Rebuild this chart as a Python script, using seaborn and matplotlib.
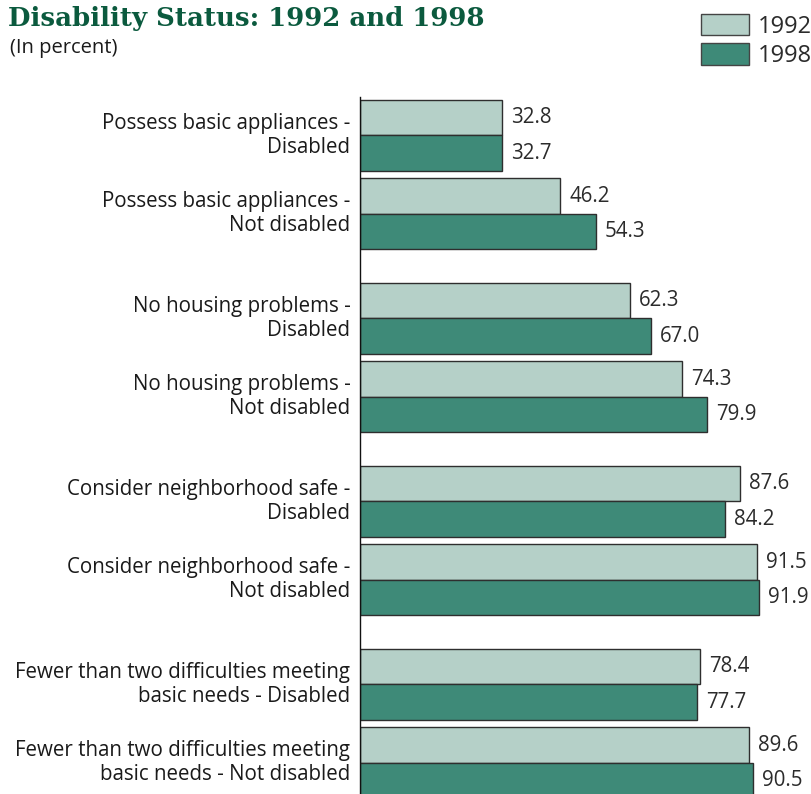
import matplotlib
matplotlib.use("Agg")
import matplotlib.pyplot as plt
from matplotlib.patches import Patch
from matplotlib.transforms import ScaledTranslation
import seaborn as sns
import pandas as pd

categories = [
    "Possess basic appliances -\nDisabled",
    "Possess basic appliances -\nNot disabled",
    "No housing problems -\nDisabled",
    "No housing problems -\nNot disabled",
    "Consider neighborhood safe -\nDisabled",
    "Consider neighborhood safe -\nNot disabled",
    "Fewer than two difficulties meeting\nbasic needs - Disabled",
    "Fewer than two difficulties meeting\nbasic needs - Not disabled",
]
values_1992 = [32.8, 46.2, 62.3, 74.3, 87.6, 91.5, 78.4, 89.6]
values_1998 = [32.7, 54.3, 67.0, 79.9, 84.2, 91.9, 77.7, 90.5]
years = ["1992", "1998"]

light = "#b5d0c8"
dark = "#3e8a78"
edge = "#2e2e2e"
title_color = "#0b5a3e"
text_color = "#2b2b2b"

sns.set_theme(style="white")
plt.rcParams["font.family"] = ["Open Sans", "DejaVu Sans"]

# layout: pairs of rows within a topic, bigger gap between topics
group_step = 2.331
positions = [(i // 2) * group_step + (i % 2) for i in range(len(categories))]

df = pd.DataFrame({
    "pos": positions * 2,
    "value": values_1992 + values_1998,
    "year": [years[0]] * len(categories) + [years[1]] * len(categories),
})

fig = plt.figure(figsize=(8.12, 7.94), dpi=100)
ax = fig.add_axes([360 / 812, 0.0, 1 - 360 / 812, 1 - 97 / 794])

sns.barplot(data=df, y="pos", x="value", hue="year", hue_order=years,
            palette={years[0]: light, years[1]: dark}, orient="y",
            native_scale=True, width=0.904, gap=0, dodge=True,
            edgecolor=edge, linewidth=1.0, legend=False, ax=ax,
            saturation=1, err_kws={"linewidth": 0})

for cont in ax.containers:
    ax.bar_label(cont, fmt="%.1f", padding=6.5, fontsize=14.8,
                 color=text_color, clip_on=False)

ax.set_xlim(0, (812 - 360) / 4.338)
ax.set_ylim(8.389, -0.490)
ax.set_yticks(positions)
ax.set_yticklabels(categories, fontsize=14.8, color="#1a1a1a",
                   ha="right", linespacing=1.18)
ax.tick_params(axis="y", length=0, pad=7)
shift = ScaledTranslation(0, 4 / 100, fig.dpi_scale_trans)
for lab in ax.get_yticklabels():
    lab.set_transform(lab.get_transform() + shift)
ax.set_xticks([])
ax.set_xlabel("")
ax.set_ylabel("")
for s in ["top", "right", "bottom"]:
    ax.spines[s].set_visible(False)
ax.spines["left"].set_color("#111111")
ax.spines["left"].set_linewidth(1.0)
for p in ax.patches:
    p.set_clip_on(True)

fig.text(8 / 812, 1 - 26 / 794, "Disability Status: 1992 and 1998",
         fontsize=18.7, fontweight="bold", family="DejaVu Serif",
         color=title_color, ha="left", va="baseline")
fig.text(10 / 812, 1 - 53 / 794, "(In percent)", fontsize=14.5,
         color="#1a1a1a", ha="left", va="baseline")

handles = [Patch(facecolor=light, edgecolor="#444444", linewidth=1.0),
           Patch(facecolor=dark, edgecolor="#444444", linewidth=1.0)]
fig.legend(handles, years, loc="upper right",
           bbox_to_anchor=(1.0, 1 - 14 / 794), frameon=False,
           fontsize=17, handlelength=2.03, handleheight=1.0,
           labelspacing=0.2, handletextpad=0.38, borderpad=0,
           borderaxespad=0, labelcolor="#2b2b2b")

fig.savefig("out.png", dpi=100)
